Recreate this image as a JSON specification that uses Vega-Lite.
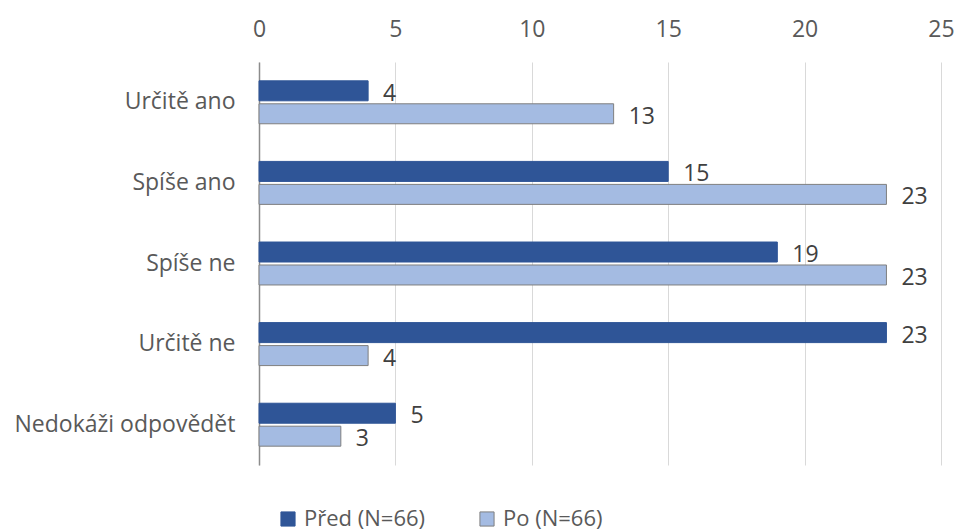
{
  "$schema": "https://vega.github.io/schema/vega-lite/v6.json",
  "autosize": "none",
  "width": 682,
  "height": 403,
  "padding": {"left": 259, "top": 62, "right": 16, "bottom": 67},
  "background": "white",
  "config": {
    "view": {"stroke": null},
    "font": "Open Sans"
  },
  "data": {
    "values": [
      {"kategorie": "Určitě ano", "skupina": "Před (N=66)", "pocet": 4},
      {"kategorie": "Určitě ano", "skupina": "Po (N=66)", "pocet": 13},
      {"kategorie": "Spíše ano", "skupina": "Před (N=66)", "pocet": 15},
      {"kategorie": "Spíše ano", "skupina": "Po (N=66)", "pocet": 23},
      {"kategorie": "Spíše ne", "skupina": "Před (N=66)", "pocet": 19},
      {"kategorie": "Spíše ne", "skupina": "Po (N=66)", "pocet": 23},
      {"kategorie": "Určitě ne", "skupina": "Před (N=66)", "pocet": 23},
      {"kategorie": "Určitě ne", "skupina": "Po (N=66)", "pocet": 4},
      {"kategorie": "Nedokáži odpovědět", "skupina": "Před (N=66)", "pocet": 5},
      {"kategorie": "Nedokáži odpovědět", "skupina": "Po (N=66)", "pocet": 3}
    ]
  },
  "encoding": {
    "y": {
      "field": "kategorie",
      "type": "nominal",
      "sort": ["Určitě ano", "Spíše ano", "Spíše ne", "Určitě ne", "Nedokáži odpovědět"],
      "scale": {"paddingInner": 0.467, "paddingOuter": 0.2335},
      "axis": {
        "title": null,
        "ticks": false,
        "domainColor": "#8c8c8c",
        "domainWidth": 1.5,
        "labelFontSize": 23,
        "labelColor": "#595959",
        "labelPadding": 24,
        "labelLimit": 400,
        "labelFont": "Open Sans"
      }
    },
    "yOffset": {
      "field": "skupina",
      "type": "nominal",
      "sort": ["Před (N=66)", "Po (N=66)"],
      "scale": {"paddingInner": 0.13, "paddingOuter": 0}
    },
    "x": {
      "field": "pocet",
      "type": "quantitative",
      "scale": {"domain": [0, 25], "nice": false},
      "axis": {
        "orient": "top",
        "title": null,
        "values": [0, 5, 10, 15, 20, 25],
        "ticks": false,
        "domain": false,
        "grid": true,
        "gridColor": "#d9d9d9",
        "gridWidth": 1,
        "labelFontSize": 23,
        "labelColor": "#595959",
        "labelPadding": 21,
        "labelFlush": false,
        "labelFont": "Open Sans"
      }
    }
  },
  "layer": [
    {
      "mark": {"type": "bar", "strokeWidth": 1},
      "encoding": {
        "color": {
          "field": "skupina",
          "type": "nominal",
          "sort": ["Před (N=66)", "Po (N=66)"],
          "scale": {"domain": ["Před (N=66)", "Po (N=66)"], "range": ["#2f5597", "#a4bbe2"]},
          "legend": {
            "title": null,
            "orient": "none",
            "direction": "horizontal",
            "legendX": 18,
            "legendY": 446,
            "symbolType": "square",
            "symbolSize": 200,
            "symbolStrokeWidth": 1,
            "labelFontSize": 22,
            "labelColor": "#595959",
            "labelFont": "Open Sans",
            "labelLimit": 300,
            "columnPadding": 50,
            "labelOffset": 5
          }
        },
        "stroke": {
          "field": "skupina",
          "type": "nominal",
          "scale": {"domain": ["Před (N=66)", "Po (N=66)"], "range": ["#2f5597", "#7f7f7f"]},
          "legend": null
        }
      }
    },
    {
      "mark": {"type": "text", "align": "left", "baseline": "middle", "dx": 15, "dy": 3, "fontSize": 23, "color": "#404040", "font": "Open Sans"},
      "encoding": {
        "text": {"field": "pocet", "type": "quantitative"}
      }
    }
  ]
}
